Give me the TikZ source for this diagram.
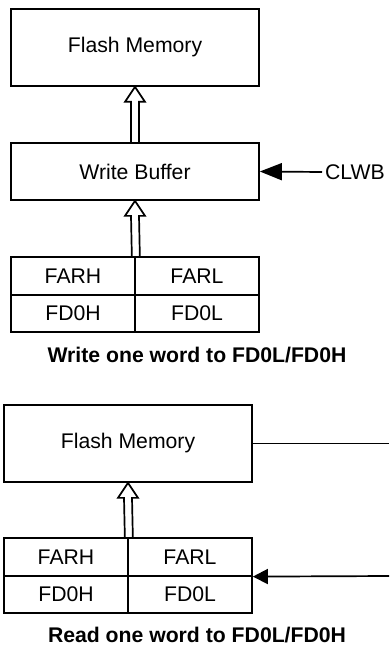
\documentclass[tikz,border=0pt]{standalone}
\usepackage{fontspec}
\setmainfont{Liberation Sans}
\usepackage{tikz}
\usetikzlibrary{arrows.meta, calc, positioning}

% hollow double-lined arrow from a tail point up to a box
\newcommand{\wordarrow}[2]{%
  \draw ($(#1)+(-4,0)$) -- ($(#2.south)+(-4,15)$) -- ($(#2.south)+(-10,15)$)
    -- (#2.south) -- ($(#2.south)+(10,15)$) -- ($(#2.south)+(4,15)$)
    -- ($(#1)+(4,0)$);}

\begin{document}
\begin{tikzpicture}[x=1pt, y=-1pt, line width=1.7pt,
    font=\fontsize{21.2}{25}\selectfont,
    box/.style={draw, rectangle, minimum width=248pt, inner sep=0pt},
    cell/.style={draw, rectangle, minimum width=124pt, minimum height=37.5pt, inner sep=0pt},
    caption/.style={font=\fontsize{21.2}{25}\selectfont\bfseries}]

            \useasboundingbox (0,0) rectangle (389,647);

            % Write: flash memory, write buffer and CLWB
            \node[box, minimum height=77pt] (fm1) at (135,47.5) {Flash Memory};
            \node[box, minimum height=57pt] (wb1) at (135,171.5) {Write Buffer};
            \node[anchor=west, inner xsep=3pt, inner ysep=0pt, outer sep=0pt] (clwb) at (322,172) {CLWB};

            % Write: the registers
            \node[cell] (farh1) at (73,276) {FARH};
            \node[cell] (farl1) at (197,276) {FARL};
            \node[cell] (fd0h1) at (73,313.5) {FD0H};
            \node[cell] (fd0l1) at (197,313.5) {FD0L};

            \node[caption] (cap1) at (197,355) {Write one word to FD0L/FD0H};

            % Write: arrows
            \wordarrow{wb1.north}{fm1}
            \wordarrow{farh1.north east}{wb1}
            \draw[-{Triangle[length=22pt,width=17pt]}] (clwb.west) -- (wb1.east);

            % Read: flash memory
            \node[box, minimum height=77pt] (fm2) at (128,443.5) {Flash Memory};

            % Read: the registers
            \node[cell] (farh2) at (66,557) {FARH};
            \node[cell] (farl2) at (190,557) {FARL};
            \node[cell] (fd0h2) at (66,594.5) {FD0H};
            \node[cell] (fd0l2) at (190,594.5) {FD0L};

            \node[caption] (cap2) at (197,635) {Read one word to FD0L/FD0H};

            % Read: arrows
            \coordinate (out2) at (389,443.5);
            \coordinate (in2) at (389,576);
            \wordarrow{farh2.north east}{fm2}
            \draw (fm2.east) -- (out2);
            \draw[-{Triangle[length=15pt,width=15pt]}] (in2) -- (farl2.south east);

\end{tikzpicture}
\end{document}
